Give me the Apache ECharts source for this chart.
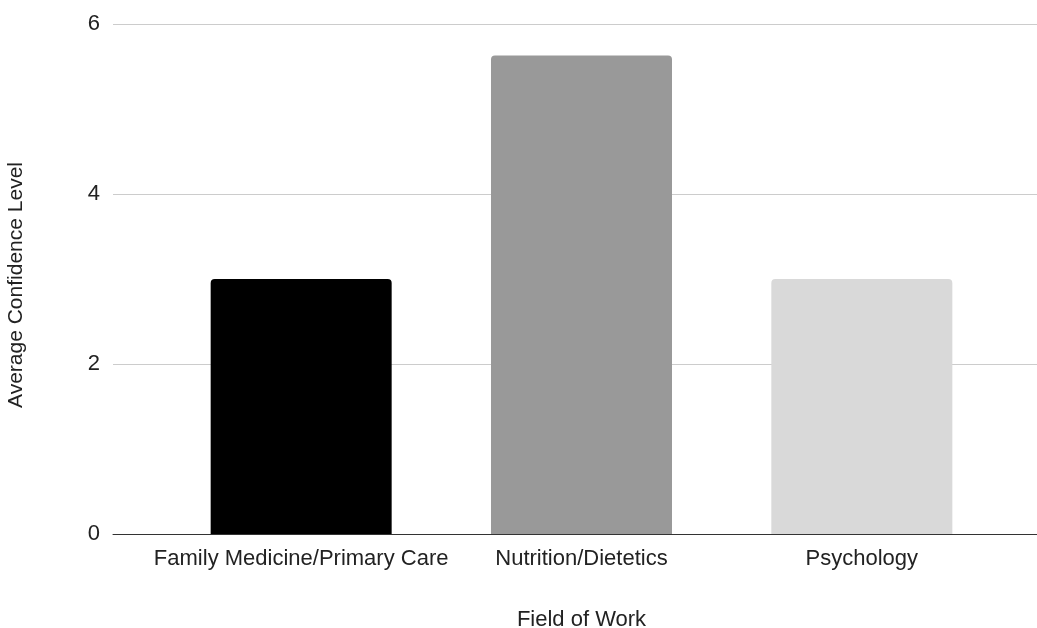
<!DOCTYPE html>
<html>
<head>
<meta charset="utf-8">
<script src="https://cdn.jsdelivr.net/npm/echarts@6/dist/echarts.min.js"></script>
<style>
  html, body { margin: 0; padding: 0; background: #ffffff; }
  #chart { width: 1037px; height: 628px; }
</style>
</head>
<body>
<div id="chart"></div>
<script>
// Average confidence level by field of work
const categories = ['Family Medicine/Primary Care', 'Nutrition/Dietetics', 'Psychology'];
const values = [3, 5.63, 3];
const barColors = ['#000000', '#999999', '#d9d9d9'];
const yTicks = [0, 2, 4, 6];

const FONT = 'Liberation Sans, Arial, sans-serif';
const chart = echarts.init(document.getElementById('chart'));

chart.setOption({
  animation: false,
  grid: [
    // full-width grid carrying the value axis, gridlines and baseline
    { left: 113, right: 0, top: 24, bottom: 94, outerBoundsMode: 'none', containLabel: false },
    // narrower grid holding the category bars
    { left: 161, right: 35, top: 24, bottom: 94, outerBoundsMode: 'none', containLabel: false }
  ],
  xAxis: [
    {
      gridIndex: 0, type: 'value', min: 0, max: 1,
      axisLine: { show: true, lineStyle: { color: '#333333', width: 1 } },
      axisTick: { show: false }, axisLabel: { show: false }, splitLine: { show: false }
    },
    {
      gridIndex: 1, type: 'category', data: categories,
      axisLine: { show: false }, axisTick: { show: false },
      axisLabel: { color: '#222222', fontSize: 22, fontFamily: FONT, margin: 14, interval: 0 },
      name: 'Field of Work', nameLocation: 'middle', nameGap: 75,
      nameTextStyle: { color: '#222222', fontSize: 22, fontFamily: FONT }
    }
  ],
  yAxis: [
    {
      gridIndex: 0, type: 'value', min: yTicks[0], max: yTicks[yTicks.length - 1], interval: 2,
      axisLine: { show: false }, axisTick: { show: false },
      axisLabel: { color: '#222222', fontSize: 22, fontFamily: FONT, margin: 13, padding: [4, 0, 0, 0] },
      splitLine: { lineStyle: { color: '#cccccc', width: 1 } },
      name: 'Average Confidence Level', nameLocation: 'middle', nameGap: 86,
      nameTextStyle: { color: '#222222', fontSize: 21, fontFamily: FONT, padding: [0, 12, 0, 0] }
    },
    {
      gridIndex: 1, type: 'value', min: yTicks[0], max: yTicks[yTicks.length - 1], interval: 2,
      show: false
    }
  ],
  series: [{
    type: 'bar',
    xAxisIndex: 1, yAxisIndex: 1,
    barWidth: 181,
    data: values.map((v, i) => ({
      value: v,
      itemStyle: { color: barColors[i], borderRadius: [4, 4, 0, 0] }
    }))
  }]
});
</script>
</body>
</html>
